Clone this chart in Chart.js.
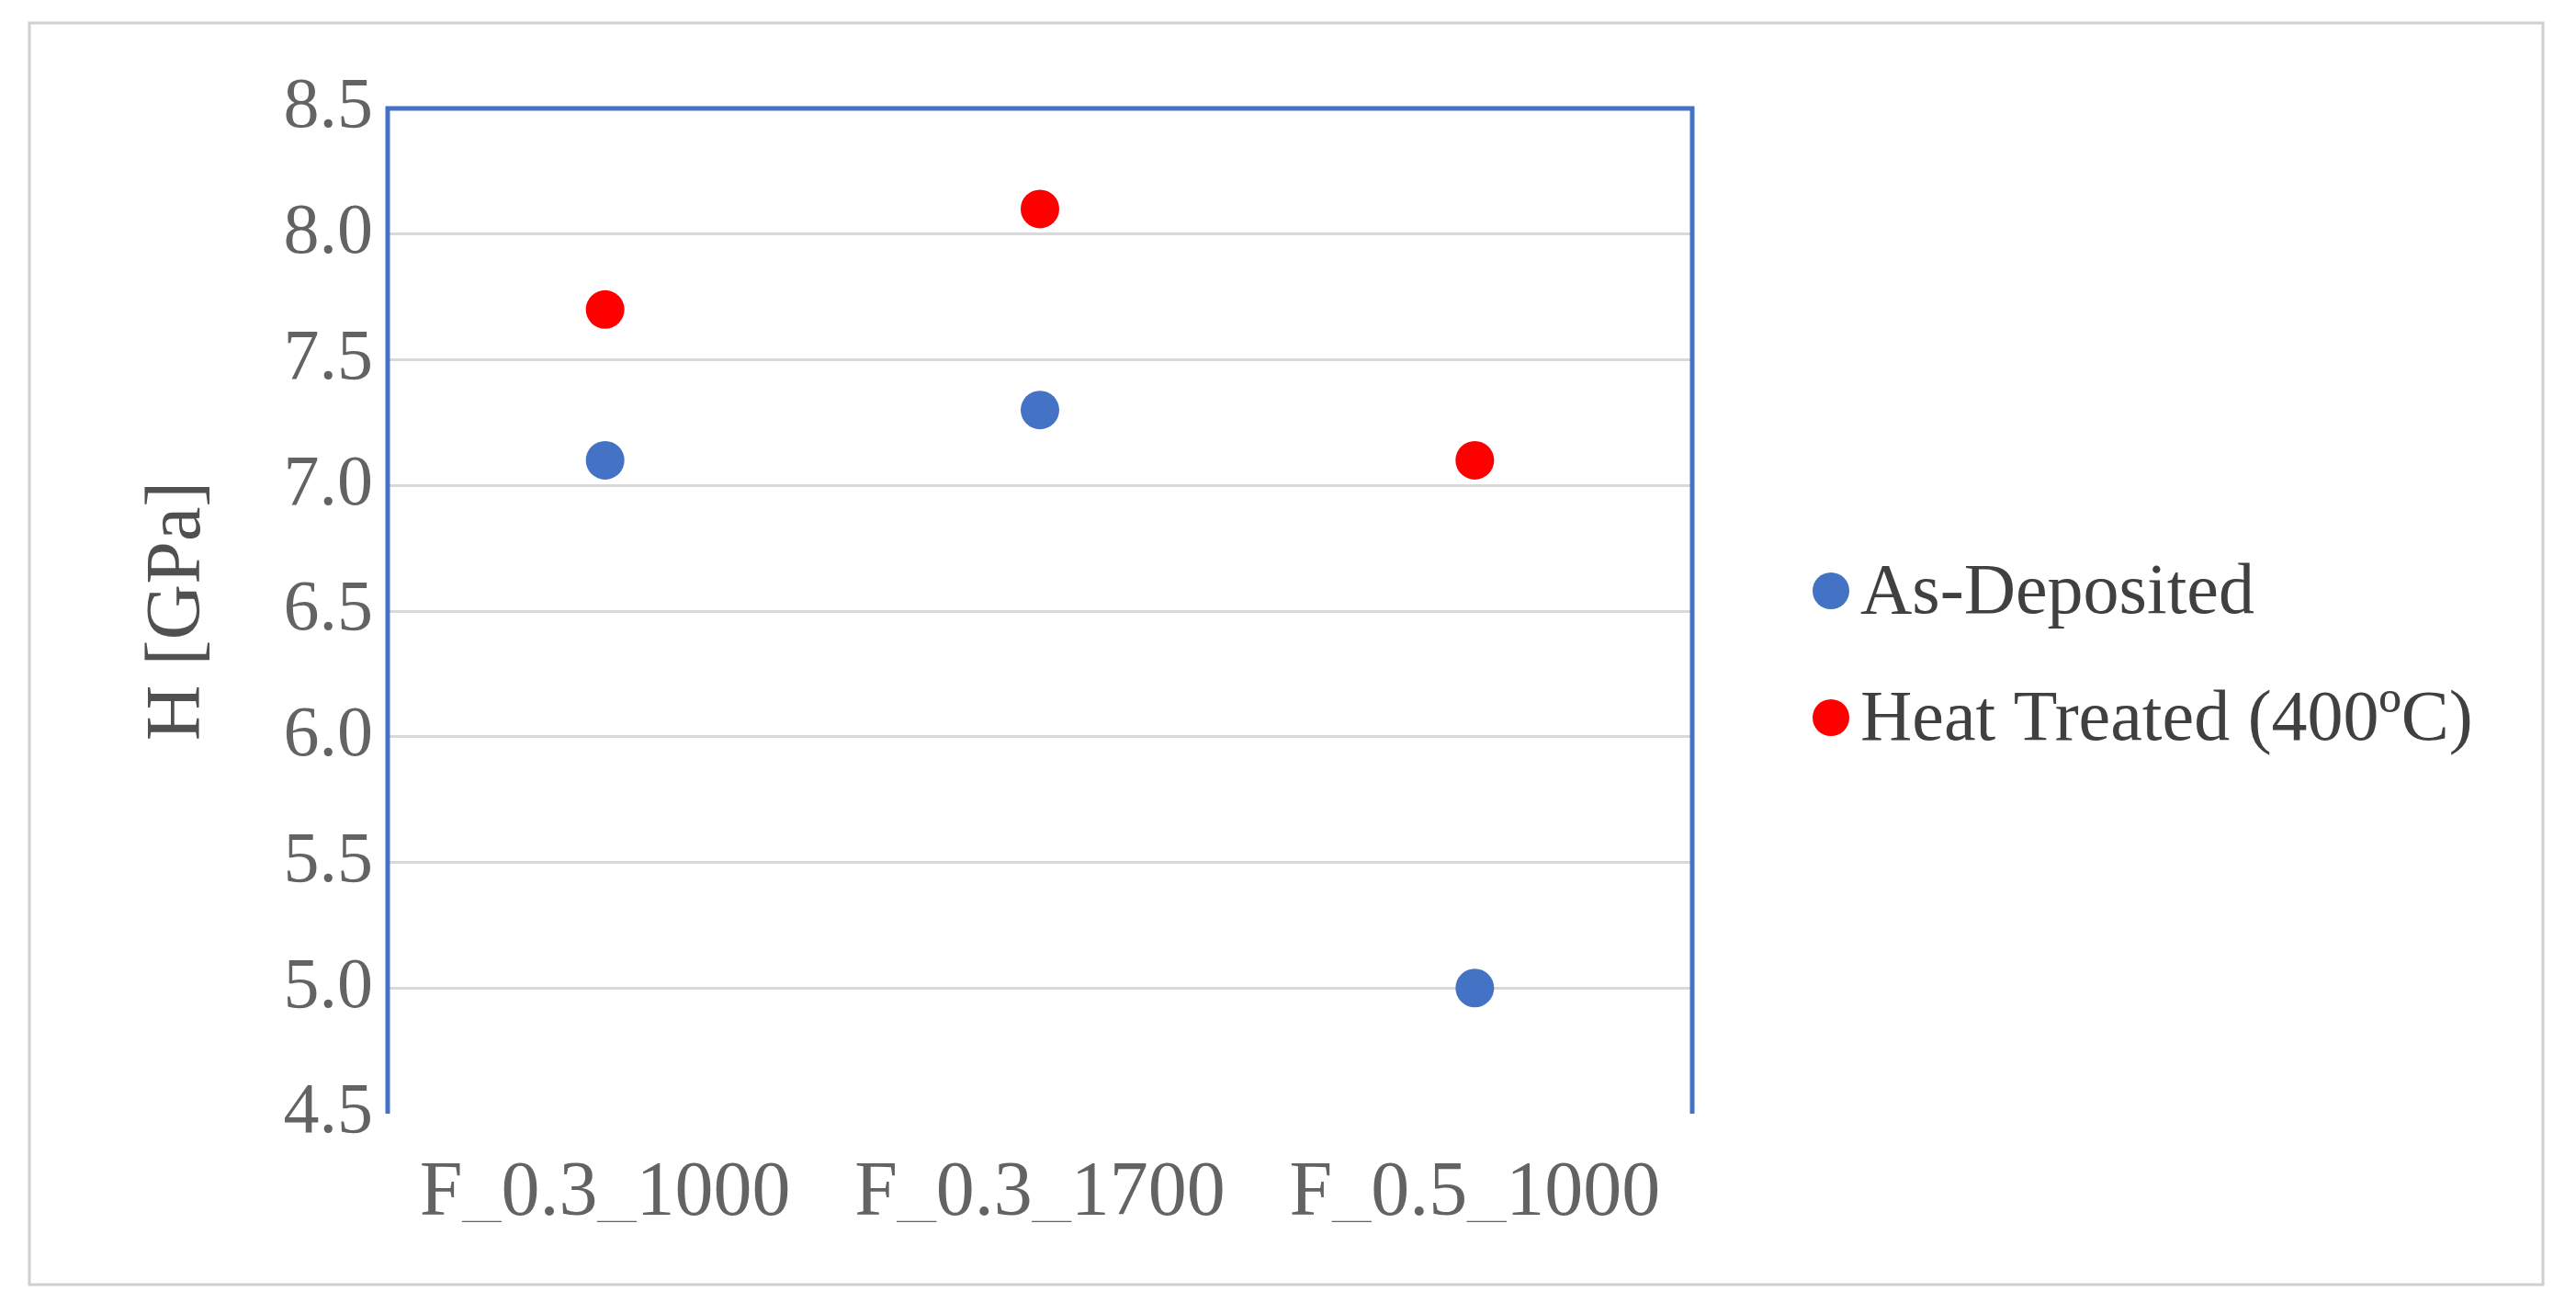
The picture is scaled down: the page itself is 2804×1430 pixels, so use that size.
<!DOCTYPE html>
<html><head><meta charset="utf-8">
<script src="https://cdn.jsdelivr.net/npm/chart.js@4"></script>
<style>html,body{margin:0;padding:0;background:#fff}canvas{display:block}</style>
</head><body>
<canvas id="c" width="2804" height="1430" style="width:2804px;height:1430px"></canvas>
<script>
const categories = ["F_0.3_1000", "F_0.3_1700", "F_0.5_1000"];
const asDeposited = [7.1, 7.3, 5.0];
const heatTreated = [7.7, 8.1, 7.1];
const yTicks = [4.5, 5.0, 5.5, 6.0, 6.5, 7.0, 7.5, 8.0, 8.5];
const seriesNames = ["As-Deposited", "Heat Treated (400ºC)"];
const FONT = "'Liberation Serif', 'Times New Roman', serif";

const frame = {
  id: 'frame',
  beforeDraw(chart) {
    const c = chart.ctx;
    c.save(); c.fillStyle = '#fff'; c.fillRect(0, 0, chart.width, chart.height);
    c.strokeStyle = '#d0d0d0'; c.lineWidth = 3; c.strokeRect(32, 25, 2736, 1373); c.restore();
  },
  afterDraw(chart) {
    const c = chart.ctx, a = chart.chartArea;
    c.save();
    c.strokeStyle = '#4472c4'; c.lineWidth = 5;
    c.beginPath(); c.moveTo(a.left, a.bottom); c.lineTo(a.left, a.top); c.lineTo(a.right, a.top); c.lineTo(a.right, a.bottom); c.stroke();
    c.font = "78px " + FONT; c.textBaseline = 'middle';
    const ys = [643, 781];
    chart.data.datasets.forEach((ds, i) => {
      c.beginPath(); c.arc(1993, ys[i], 20, 0, Math.PI * 2); c.fillStyle = ds.backgroundColor; c.fill();
      c.fillStyle = '#404040'; c.fillText(ds.label, 2025, ys[i] + 4);
    });
    c.restore();
  }
};

new Chart(document.getElementById('c'), {
  type: 'line',
  data: {
    labels: categories,
    datasets: [
      { label: seriesNames[0], data: asDeposited, showLine: false, backgroundColor: '#4472c4', borderColor: '#4472c4', pointRadius: 21, pointBorderWidth: 0 },
      { label: seriesNames[1], data: heatTreated, showLine: false, backgroundColor: '#ff0000', borderColor: '#ff0000', pointRadius: 21, pointBorderWidth: 0 }
    ]
  },
  options: {
    responsive: false, animation: false, devicePixelRatio: 1,
    layout: { padding: { left: 145, top: 118, right: 962, bottom: 100 } },
    plugins: { legend: { display: false }, tooltip: { enabled: false } },
    scales: {
      x: {
        offset: true,
        grid: { display: false },
        border: { display: false },
        ticks: { color: '#636363', font: { family: FONT, size: 84 }, padding: 30 },
        afterFit(s) { s.height = 118; }
      },
      y: {
        min: 4.5, max: 8.5,
        afterBuildTicks(s) { s.ticks = yTicks.map(v => ({ value: v })); },
        grid: { color: ctx => (ctx.tick && (ctx.tick.value === 4.5 || ctx.tick.value === 8.5)) ? 'rgba(0,0,0,0)' : '#d9d9d9', lineWidth: 3, drawTicks: false },
        border: { display: false },
        ticks: { color: '#636363', font: { family: FONT, size: 78 }, padding: 16, callback: v => Number(v).toFixed(1) },
        title: { display: true, text: 'H [GPa]', color: '#505050', font: { family: FONT, size: 84 }, padding: 0 },
        afterFit(s) { s.width = 277; }
      }
    }
  },
  plugins: [frame]
});
</script>
</body></html>
